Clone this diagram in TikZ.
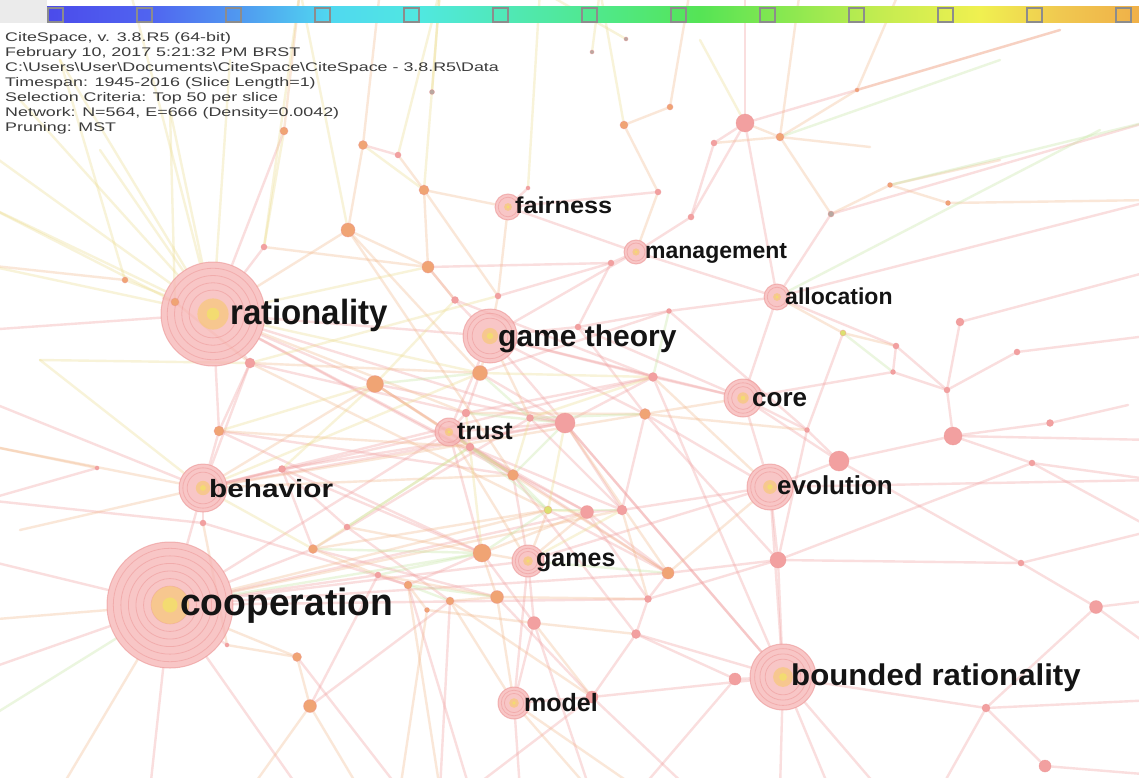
\documentclass[tikz,border=0pt]{standalone}
\usepackage{fontspec}
\setmainfont{Liberation Sans}
\usepackage{tikz}
\usetikzlibrary{positioning}
\pgfdeclarelayer{background}
\pgfsetlayers{background,main}

\definecolor{linkpink}{HTML}{F09C9C}
\definecolor{linkorange}{HTML}{F2B88A}
\definecolor{linkyellow}{HTML}{ECDC8C}
\definecolor{linkgreen}{HTML}{C4E4A0}
\definecolor{hubfill}{HTML}{F6B4B4}
\definecolor{hubring}{HTML}{EC9494}
\definecolor{glow}{HTML}{F7C878}
\definecolor{glowcore}{HTML}{F3E06A}
\definecolor{dotorange}{HTML}{F0A474}
\definecolor{dotpink}{HTML}{F2A0A0}
\definecolor{dotyellow}{HTML}{DCE070}
\definecolor{dotgray}{HTML}{B8A8A0}
\definecolor{hdrgray}{HTML}{3C3C3C}
\definecolor{cA}{HTML}{4B4BEB}
\definecolor{cB}{HTML}{5064F0}
\definecolor{cC}{HTML}{50A0F0}
\definecolor{cD}{HTML}{50D8F0}
\definecolor{cE}{HTML}{50E8E0}
\definecolor{cF}{HTML}{50E8B0}
\definecolor{cG}{HTML}{50E880}
\definecolor{cH}{HTML}{55E455}
\definecolor{cI}{HTML}{8CE850}
\definecolor{cJ}{HTML}{C4EC50}
\definecolor{cK}{HTML}{F0F050}
\definecolor{cL}{HTML}{F0C850}
\definecolor{cM}{HTML}{F0B048}

\newcommand{\hx}[1]{\scalebox{1.43}[1]{#1}}

\tikzset{
    lpink/.style={draw=linkpink, line width=2.4pt, draw opacity=.33, line cap=round},
    lorange/.style={draw=linkorange, line width=2.4pt, draw opacity=.33, line cap=round},
    lyellow/.style={draw=linkyellow, line width=2.4pt, draw opacity=.33, line cap=round},
    lgreen/.style={draw=linkgreen, line width=2.4pt, draw opacity=.33, line cap=round},
    hubdisc/.style={circle, inner sep=0pt, fill=hubfill, fill opacity=.75, draw=hubring, draw opacity=.6, line width=1pt},
    ring/.style={draw=hubring, line width=.8pt, draw opacity=.5},
    kdot/.style={circle, inner sep=0pt, minimum size=#1, draw=hubring, draw opacity=.5, line width=.6pt},
    kwlabel/.style={anchor=base west, inner sep=0pt, text=black!92},
    hdr/.style={anchor=base west, inner sep=0pt, text=hdrgray, font=\fontsize{12.5}{14}\selectfont}
}

\begin{document}
\begin{tikzpicture}[x=1pt, y=-1pt]
\useasboundingbox (0,0) rectangle (1139,778);

% colour bar
\fill[black!8] (0,0) rectangle (47,23);
\foreach \xa/\ca/\xb/\cb in {47/cA/150/cB, 150/cB/250/cC, 250/cC/330/cD, 330/cD/420/cE,
    420/cE/520/cF, 520/cF/620/cG, 620/cG/700/cH, 700/cH/790/cI, 790/cI/880/cJ,
    880/cJ/980/cK, 980/cK/1060/cL, 1060/cL/1139.5/cM}
  \shade[left color=\ca, right color=\cb] (\xa,7) rectangle (\xb,23);
\foreach \k in {0,...,12}
  \draw[black!45, line width=1.2pt] ({48+89*\k},8) rectangle ({63+89*\k},22);

% keywords
\foreach \n/\x/\y/\r/\rl in {coop/170/605/63/{.9,.78,.66,.54,.42,.3}, rat/213/314/52/{.88,.74,.6,.46},
    gth/490/336/27/{.84,.66}, bnd/783/677/33/{.86,.7,.54}, beh/203/488/24/{.84,.66},
    core/743/398/19/{.8,.6}, evo/770/487/23/{.84,.66}, fair/508/207/13/{.75}, mgmt/636/252/12/{.75},
    alloc/777/297/13/{.75}, trust/449/432/14/{.75}, games/528/561/16/{.8,.6}, model/514/703/16/{.8,.6}}
{
  \node[hubdisc, minimum size=2*\r] (\n) at (\x,\y) {};
  \foreach \f in \rl
    \draw[ring] (\n) circle ({\f*\r});
  \fill[glow, opacity=.7] (\n) circle ({.3*\r});
  \fill[glowcore, opacity=.8] (\n) circle ({.12*\r});
}

% small nodes
\foreach \n/\x/\y/\s/\c in {d1/745/123/18/dotpink, d2/839/461/20/dotpink, d3/953/436/18/dotpink,
    d4/565/423/20/dotpink, d5/482/553/18/dotorange, d6/375/384/17/dotorange, d7/348/230/14/dotorange,
    d8/428/267/12/dotorange, d9/480/373/15/dotorange, d10/1096/607/13/dotpink, d11/778/560/16/dotpink,
    d12/735/679/12/dotpink, d13/592/697/12/dotpink, d14/310/706/13/dotorange, d15/1045/766/12/dotpink,
    d16/497/597/13/dotorange, d17/534/623/13/dotpink, d18/587/512/13/dotpink, d19/622/510/10/dotpink,
    d20/645/414/11/dotorange, d21/668/573/12/dotorange, d22/653/377/9/dotpink, d23/636/634/9/dotpink,
    d24/424/190/10/dotorange, d25/284/131/8/dotorange, d26/363/145/9/dotorange, d27/624/125/8/dotorange,
    d28/219/431/10/dotorange, d29/297/657/9/dotorange, d30/450/601/8/dotorange, d31/986/708/8/dotpink,
    d32/960/322/8/dotpink, d33/1021/563/6/dotpink, d34/1050/423/7/dotpink, d35/780/137/8/dotorange,
    d36/513/475/11/dotorange, d37/548/510/8/dotyellow, d38/466/413/8/dotpink, d39/470/447/8/dotpink,
    d40/455/300/7/dotpink, d41/250/363/10/dotpink, d42/313/549/9/dotorange, d43/408/585/8/dotorange,
    d44/648/599/7/dotpink, d45/947/390/6/dotpink, d46/1017/352/6/dotpink, d47/843/333/6/dotyellow,
    d48/896/346/6/dotpink, d49/831/214/6/dotgray, d50/670/107/6/dotorange, d51/714/143/6/dotpink,
    d52/658/192/6/dotpink, d53/125/280/6/dotorange, d54/175/302/8/dotorange, d55/264/247/6/dotpink,
    d56/282/469/7/dotpink, d57/347/527/6/dotpink, d58/203/523/6/dotpink, d59/378/575/6/dotpink,
    d60/227/645/4/dotpink, d61/97/468/4/dotpink, d62/611/263/6/dotpink, d63/691/217/6/dotpink,
    d64/669/311/5/dotpink, d65/807/430/5/dotpink, d66/890/185/5/dotorange, d67/948/203/5/dotorange,
    d68/432/92/5/dotgray, d69/626/39/4/dotgray, d70/398/155/6/dotpink, d71/528/188/4/dotpink,
    d72/857/90/4/dotorange, d73/592/52/4/dotgray, d74/530/418/7/dotpink, d75/1032/463/6/dotpink,
    d77/893/372/5/dotpink, d78/427/610/5/dotorange, d79/578/327/6/dotpink, d80/498/296/6/dotpink}
  \node[kdot=\s, fill=\c] (\n) at (\x,\y) {};

% free ends outside the frame
\foreach \n/\x/\y in {o1/-15/150, o2/-15/205, o3/100/150, o4/170/110, o5/-15/265, o6/-15/330,
    o7/40/360, o8/-15/400, o9/-15/445, o10/20/530, o11/-15/560, o12/-15/670, o13/60/790,
    o14/150/790, o15/250/790, o16/360/790, o17/440/790, o18/520/790, o19/590/790, o20/690/790,
    o21/780/790, o22/880/790, o23/1000/790, o24/1155/775, o25/1155/700, o26/1155/600,
    o27/1155/480, o28/1155/400, o29/1155/335, o30/1155/270, o31/1100/130, o32/1000/60,
    o33/900/-10, o34/800/-10, o35/745/-10, o36/690/-10, o37/600/-10, o38/540/-10, o39/440/-10,
    o40/380/-10, o41/300/-10, o42/230/60, o43/60/60, o44/1155/530, o45/1155/200, o47/1128/405,
    o48/870/147, o49/1000/160, o50/700/40, o51/-15/620, o52/-15/720, o53/300/790, o54/400/790,
    o55/470/790, o56/640/790, o57/830/790, o58/940/790, o59/1060/30, o60/1155/120, o61/130/-10,
    o62/20/100, o63/-15/500, o64/1155/650, o65/1155/440}
  \coordinate (\n) at (\x,\y);

\begin{pgfonlayer}{background}
\fill[white] (0,23) rectangle (1139,778);
\fill[white] (47,0) rectangle (1139,7);
\clip (0,0) rectangle (1139,778);
\foreach \a/\b in {rat/gth, rat/d41, rat/d6, rat/d28, rat/d55, rat/d25, beh/d28, beh/d56,
    beh/d58, beh/coop, beh/trust, coop/d42, coop/d60, coop/trust, coop/games, coop/d59,
    trust/d38, trust/d4, trust/gth, gth/d40, gth/mgmt, gth/core, gth/d79, gth/bnd, fair/d71,
    fair/mgmt, mgmt/d62, mgmt/d63, mgmt/alloc, d63/d1, d1/d51, d1/alloc, d1/o35, alloc/d49,
    alloc/core, alloc/d64, core/evo, core/d22, core/d65, core/d2, evo/d2, evo/d11, evo/bnd,
    evo/games, evo/d19, evo/o27, d2/d3, d2/d65, d3/d34, d3/d45, d3/d75, d34/o47, d45/d32,
    d45/d46, d45/d48, d46/o29, d32/o30, d48/d77, d11/d33, d33/d10, d10/o26, d10/d31, d31/bnd,
    d31/d15, d15/o24, d31/o25, bnd/d12, bnd/d13, bnd/o21, bnd/d11, bnd/d22, bnd/d4, d12/d23,
    d23/d44, d44/d21, d21/d18, d18/d19, d19/d20, d22/d4, d4/d74, d36/games, games/d17,
    games/model, model/d17, model/d13, model/o18, d13/o20, d13/d23, d5/d43, d43/d59, d57/d56,
    d9/d38, d40/d8, d70/d26, d62/d79, d79/d20, d75/o27, d77/d45, rat/d18, beh/d4, coop/d44,
    d56/d4, d58/d43, d28/d5, d6/d21, o6/rat, o8/beh, o11/coop, o12/coop, o14/coop, bnd/o22,
    d65/d11, d20/evo, d39/d18, d42/d74,
    beh/d22, coop/d18, coop/d21, rat/d36, rat/d4, d6/d4, d41/d38, d28/d36, d56/d5, d57/d30,
    d42/d16, d14/d30, trust/d5, d38/d22, d39/d19, d9/d64, d80/d62, gth/d22, d79/core, d74/d19,
    d18/d44, d37/d21, d36/d23, d5/d17, d16/d13, d30/o17, d17/o19, d44/d11, d21/d11, d23/bnd,
    d11/d75, d33/o44, d2/d33, d65/d47, core/d77, alloc/d48, d64/d65, d12/o56, d13/o55,
    bnd/o57, d31/o58, d10/o64, d3/o65, d75/o44, alloc/o45, d49/o60, d1/o59, d51/d63,
    d58/o63, d61/o63, d56/d42, d28/d41, beh/d41, coop/o53, d29/o54, d14/d59, d43/o55,
    d4/d19, d20/d11, gth/d20, d9/d4, d40/d22, d8/d62, fair/d52, d79/d64}
  \draw[lpink] (\a) -- (\b);
\foreach \a/\b in {rat/d7, rat/d54, beh/d6, coop/d29, trust/d39, trust/d6, trust/games,
    gth/d80, gth/d9, fair/d24, fair/d80, mgmt/d52, d52/d27, d1/d35, d35/o34, d35/d72, d35/o48,
    alloc/d47, core/d20, evo/d21, d47/d48, games/d5, games/d37, model/d16, model/o19, model/d30,
    d16/d5, d16/d30, d17/d23, d43/d78, d59/d42, d29/d14, d14/o15, d14/o16, d8/d7, d8/d24,
    d24/d70, d26/d7, d26/o40, d27/d50, d50/o36, d25/o41, d49/d66, d66/d67, d67/o45, d66/o49,
    d72/o33, o9/beh, o10/beh, o51/coop, o13/coop, d41/d37, d7/d36, coop/d19, beh/d20, d53/o5,
    d61/o9, o17/d43, d36/d39, d18/games,
    rat/d38, d6/d36, d41/d9, d28/d39, beh/d36, coop/d37, d42/d37, d57/d5, d59/d16, d78/d17,
    d30/d13, d16/d44, d5/d18, d36/d21, d38/d20, d7/d9, d8/d40, d24/d80, d55/d8, d54/d41,
    d58/d60, d60/d29, gth/d74, d4/d21, d22/evo, d20/d65, d19/d44, d17/d13, model/o56,
    d78/o54, d72/o59, d35/d49, d51/d35}
  \draw[lorange] (\a) -- (\b);
\foreach \a/\b in {rat/o1, rat/o2, rat/o3, rat/o4, rat/o43, rat/d53, d54/o2, rat/o42, rat/d9,
    d24/o39, d71/o38, d68/o39, d27/o37, d73/o37, d69/o38, d25/d55, rat/o5, o7/beh, d1/o50,
    d36/d74, d37/d18, d9/d22, d41/d80, beh/d42,
    rat/o61, rat/o62, d53/o43, d54/o4, d55/o41, d41/o7, d7/o41, d70/o39, d26/d24, rat/d8,
    d6/d40, beh/d9, d28/d6, d56/d6, d42/d39, d5/d38, d37/d4, d74/d22, games/d19}
  \draw[lyellow] (\a) -- (\b);
\foreach \a/\b in {d5/d37, d37/d36, d6/d9, d74/d20, trust/d36, d38/d4, coop/d5, o52/coop,
    d42/d5, d30/d43, games/d21, d22/d64, alloc/o31, d35/o32,
    d36/d4, d37/d19, d5/d59, d57/d39, d9/d74, d39/d37, d16/d43, d66/o60, d47/d77}
  \draw[lgreen] (\a) -- (\b);
\end{pgfonlayer}

% labels
\node[kwlabel, font=\bfseries\fontsize{35}{35}\selectfont] (rat-l) at (230,324) {\scalebox{.944}[1]{rationality}};
\node[kwlabel, font=\bfseries\fontsize{38}{38}\selectfont] (coop-l) at (180,615) {\scalebox{.98}[1]{cooperation}};
\node[kwlabel, font=\bfseries\fontsize{30}{30}\selectfont] (gth-l) at (498,346) {game theory};
\node[kwlabel, font=\bfseries\fontsize{30}{30}\selectfont] (bnd-l) at (791,685) {\scalebox{1.04}[1]{bounded rationality}};
\node[kwlabel, font=\bfseries\fontsize{25}{25}\selectfont] (beh-l) at (209,497) {\scalebox{1.19}[1]{behavior}};
\node[kwlabel, font=\bfseries\fontsize{26}{26}\selectfont] (core-l) at (752,406) {core};
\node[kwlabel, font=\bfseries\fontsize{26}{26}\selectfont] (evo-l) at (777,494) {evolution};
\node[kwlabel, font=\bfseries\fontsize{23}{23}\selectfont] (fair-l) at (515,213) {\scalebox{1.1}[1]{fairness}};
\node[kwlabel, font=\bfseries\fontsize{23}{23}\selectfont] (mgmt-l) at (645,258) {management};
\node[kwlabel, font=\bfseries\fontsize{23}{23}\selectfont] (alloc-l) at (785,304) {allocation};
\node[kwlabel, font=\bfseries\fontsize{25}{25}\selectfont] (trust-l) at (457,439) {trust};
\node[kwlabel, font=\bfseries\fontsize{25}{25}\selectfont] (games-l) at (536,566) {games};
\node[kwlabel, font=\bfseries\fontsize{25}{25}\selectfont] (model-l) at (524,711) {model};

% run information
\node[hdr] (h1) at (5,42) {\hx{CiteSpace, v. 3.8.R5 (64-bit)}};
\node[hdr] (h2) at (5,57) {\hx{February 10, 2017 5:21:32 PM BRST}};
\node[hdr] (h3) at (5,72) {\hx{C:\textbackslash Users\textbackslash User\textbackslash Documents\textbackslash CiteSpace\textbackslash CiteSpace - 3.8.R5\textbackslash Data}};
\node[hdr] (h4) at (5,87) {\hx{Timespan: 1945-2016 (Slice Length=1)}};
\node[hdr] (h5) at (5,102) {\hx{Selection Criteria: Top 50 per slice}};
\node[hdr] (h6) at (5,117) {\hx{Network: N=564, E=666 (Density=0.0042)}};
\node[hdr] (h7) at (5,132) {\hx{Pruning: MST}};
\end{tikzpicture}
\end{document}
